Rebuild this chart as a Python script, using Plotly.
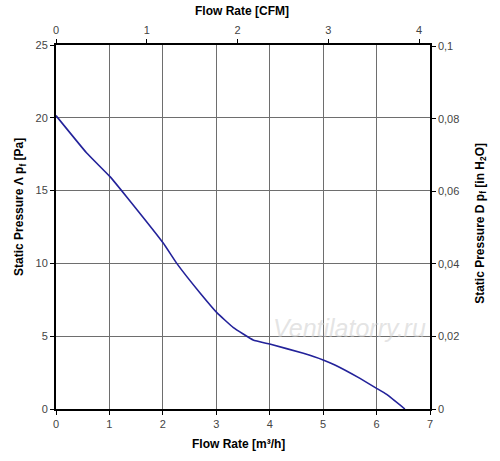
import plotly.graph_objects as go

# Data
flow_m3h = [0.0, 0.57, 1.01, 1.32, 2.01, 2.26, 2.70, 3.01, 3.32, 3.69, 4.0, 4.63, 5.0, 5.22, 5.69, 6.0, 6.19, 6.53]
pressure_pa = [20.15, 17.6, 15.96, 14.58, 11.38, 10.0, 7.95, 6.62, 5.59, 4.74, 4.46, 3.83, 3.37, 3.02, 2.1, 1.42, 1.0, 0.0]

x_ticks = [0, 1, 2, 3, 4, 5, 6, 7]
y_ticks = [0, 5, 10, 15, 20, 25]
cfm_ticks = [0, 1, 2, 3, 4]
inh2o_ticks = [0, 0.02, 0.04, 0.06, 0.08, 0.1]
inh2o_labels = ["0", "0,02", "0,04", "0,06", "0,08", "0,1"]

M3H_TO_CFM = 0.58858
PA_TO_INH2O = 1 / 249.089

font_family = "Liberation Sans, Arial, sans-serif"
tick_font = dict(family=font_family, size=11, color="#444444")
title_font = dict(family=font_family, size=12, color="#000000")

fig = go.Figure()
fig.add_trace(go.Scatter(
    x=flow_m3h, y=pressure_pa, mode="lines",
    line=dict(color="#23229a", width=1.6, shape="spline", smoothing=0.3),
    showlegend=False, hoverinfo="x+y",
))
# invisible trace to activate secondary axes
fig.add_trace(go.Scatter(
    x=[0], y=[0], xaxis="x2", yaxis="y2", mode="markers",
    marker=dict(opacity=0), showlegend=False, hoverinfo="skip",
))

fig.update_layout(
    width=500, height=461,
    margin=dict(l=56, r=70, t=45, b=52),
    paper_bgcolor="white", plot_bgcolor="white",
    font=dict(family=font_family),
    xaxis=dict(
        range=[0, 7], tickvals=x_ticks, ticks="outside", ticklen=4, tickcolor="black",
        showgrid=True, gridcolor="#6e6e6e", gridwidth=1,
        showline=True, linecolor="black", linewidth=2, zeroline=False,
        tickfont=tick_font,
    ),
    yaxis=dict(
        range=[0, 25], tickvals=y_ticks, ticks="outside", ticklen=4, tickcolor="black",
        showgrid=True, gridcolor="#6e6e6e", gridwidth=1,
        showline=True, linecolor="black", linewidth=2, zeroline=False,
        tickfont=tick_font,
    ),
    xaxis2=dict(
        range=[0, 7 * M3H_TO_CFM], tickvals=cfm_ticks, overlaying="x", side="top",
        ticks="outside", ticklen=4, tickcolor="black", ticklabelstandoff=1,
        showgrid=False, showline=True, linecolor="black", linewidth=1.5, zeroline=False,
        tickfont=tick_font,
    ),
    yaxis2=dict(
        range=[0, 25 * PA_TO_INH2O], tickvals=inh2o_ticks, ticktext=inh2o_labels,
        overlaying="y", side="right",
        ticks="outside", ticklen=4, tickcolor="black",
        showgrid=False, showline=True, linecolor="black", linewidth=1.5, zeroline=False,
        tickfont=tick_font,
    ),
    annotations=[
        dict(text="<i>Ventilatorry.ru</i>", x=0.785, y=0.222, xref="paper", yref="paper",
             xanchor="center", yanchor="middle", showarrow=False,
             font=dict(family=font_family, size=25, color="rgba(205,205,205,0.55)")),
        dict(text="<b>Flow Rate [CFM]</b>", x=0.497, y=1.093, xref="paper", yref="paper",
             xanchor="center", yanchor="middle", showarrow=False, font=title_font),
        dict(text="<b>Flow Rate [m³/h]</b>", x=0.489, y=-0.096, xref="paper", yref="paper",
             xanchor="center", yanchor="middle", showarrow=False, font=title_font),
        dict(text="<b>Static Pressure Λ p<sub>f</sub> [Pa]</b>", x=-0.0963, y=0.555,
             xref="paper", yref="paper", xanchor="center", yanchor="middle",
             textangle=-90, showarrow=False, font=title_font),
        dict(text="<b>Static Pressure D p<sub>f</sub> [in H<sub>2</sub>O]</b>", x=1.136, y=0.511,
             xref="paper", yref="paper", xanchor="center", yanchor="middle",
             textangle=-90, showarrow=False, font=title_font),
    ],
)

fig.write_html("out.html", config={"displayModeBar": False},
               post_script="document.body.style.margin='0';")
